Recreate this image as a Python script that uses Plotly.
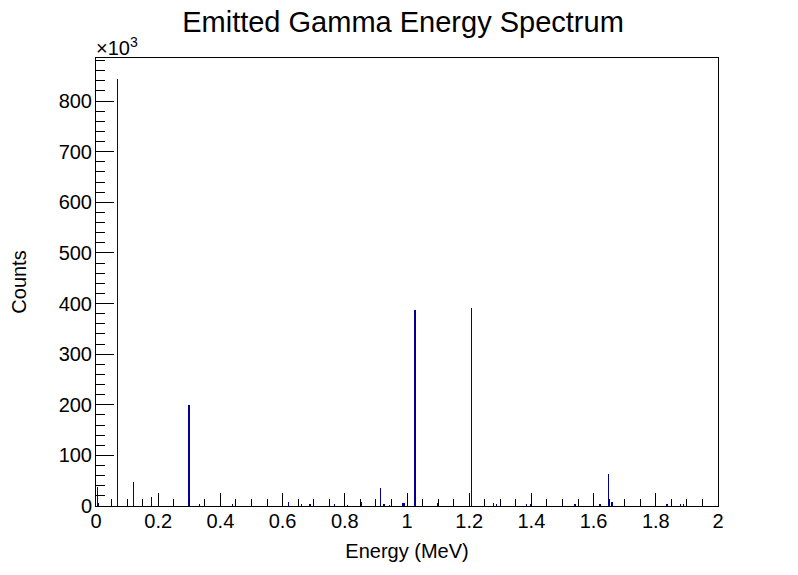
import plotly.graph_objects as go

# peak positions (MeV) and counts (x10^3)
energy = [0.004, 0.008, 0.068, 0.121, 0.178, 0.2985, 0.3015, 0.332, 0.350,
          0.440, 0.618, 0.660, 0.686, 0.689, 0.699, 0.768, 0.809, 0.852,
          0.916, 0.926, 0.945, 0.985, 0.988, 0.991, 1.0255, 1.0285, 1.097,
          1.207, 1.278, 1.287, 1.384, 1.398, 1.401, 1.539, 1.542, 1.619,
          1.622, 1.647, 1.659, 1.836, 1.880, 1.890]
counts = [38, 5, 843, 47, 18, 200, 200, 2.6, 3,
          2, 8, 2.6, 4.6, 4.6, 2, 2, 1.5, 8,
          36, 4.6, 1.5, 6, 6, 6, 388, 388, 6,
          392, 6, 4, 4, 2.6, 2.6, 2.6, 2.6, 4.6,
          4.6, 64, 8, 2.6, 2.6, 2.6]

x_ticks = [0, 0.2, 0.4, 0.6, 0.8, 1, 1.2, 1.4, 1.6, 1.8, 2]
y_ticks = [0, 100, 200, 300, 400, 500, 600, 700, 800]

# very narrow bins: plotly widens them to one whole pixel
BIN_W = 0.0004
FONT = "Liberation Sans, Arial, sans-serif"

fig = go.Figure()
fig.add_trace(go.Bar(
    x=energy, y=counts, width=BIN_W,
    marker=dict(color="#000099", line=dict(width=0)),
    hoverinfo="x+y",
))

# page has an 8px body margin, so the figure is a bit smaller than the window
fig.update_layout(
    width=790, height=567,
    margin=dict(l=88, r=80, t=50, b=69),
    paper_bgcolor="white", plot_bgcolor="white",
    showlegend=False, bargap=0,
    font=dict(family=FONT, size=20, color="black"),
    title=dict(text="Emitted Gamma Energy Spectrum", x=0.5, xanchor="center",
               y=0.976, yanchor="middle",
               font=dict(family=FONT, size=29, color="black")),
)

fig.update_xaxes(
    range=[0, 2], tickvals=x_ticks, ticks="inside", ticklen=13, tickwidth=1,
    tickcolor="black", showline=True, linecolor="black", linewidth=1,
    mirror=True, showgrid=False, zeroline=False,
    minor=dict(dtick=0.05, ticks="inside", ticklen=7, tickcolor="black",
               tickwidth=1, showgrid=False),
    title=dict(text="Energy (MeV)", font=dict(size=20), standoff=12),
    tickfont=dict(size=20), ticklabelstandoff=-3,
)
fig.update_yaxes(
    range=[0, 885], tickvals=y_ticks, ticks="inside", ticklen=18, tickwidth=1,
    tickcolor="black", showline=True, linecolor="black", linewidth=1,
    mirror=True, showgrid=False, zeroline=False,
    minor=dict(dtick=20, ticks="inside", ticklen=9, tickcolor="black",
               tickwidth=1, showgrid=False),
    title=dict(text="Counts", font=dict(size=20), standoff=26),
    tickfont=dict(size=20), ticklabelstandoff=-1,
)

fig.add_annotation(
    text="×10<sup>3</sup>", xref="paper", yref="paper", x=-0.003, y=1.0,
    xanchor="left", yanchor="bottom", showarrow=False, yshift=-3,
    font=dict(family=FONT, size=20, color="black"),
)

fig.write_html("out.html")
